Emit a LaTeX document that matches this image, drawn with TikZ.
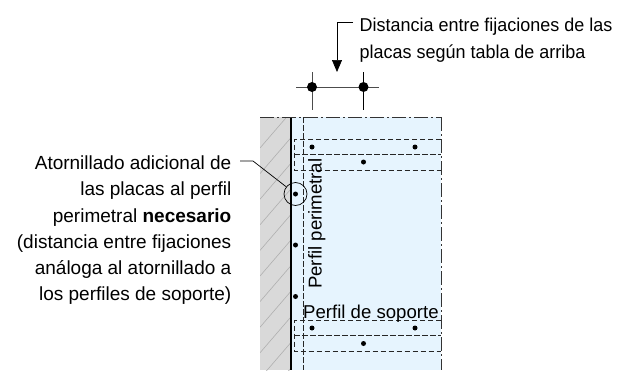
\documentclass[tikz,border=0pt]{standalone}
\usepackage{fontspec}
\setmainfont{Liberation Sans}
\usetikzlibrary{arrows.meta}
\definecolor{wallgray}{RGB}{217,217,217}
\definecolor{panelblue}{RGB}{230,244,254}
\definecolor{hatchgray}{RGB}{175,175,175}
\tikzset{
  txt/.style={font=\fontsize{18.6}{22}\selectfont,inner sep=0pt,text=black},
  lefttxt/.style={font=\fontsize{19}{22}\selectfont,inner sep=0pt,text=black},
  toptxt/.style={txt,xscale=0.966},
  band/.style={draw=black!85,line width=1pt,dash pattern=on 5.5pt off 2.5pt},
  chain/.style={draw=black!80,line width=1pt,dash pattern=on 14pt off 3pt on 2pt off 3pt},
  fix/.style={circle,fill=black,inner sep=0pt,minimum size=5pt},
  bigfix/.style={circle,fill=black,inner sep=0pt,minimum size=10pt},
  dimline/.style={draw=black!70,line width=1pt},
  leader/.style={draw=black,line width=0.7pt}
}
\begin{document}
\begin{tikzpicture}[x=1pt,y=-1pt]
\useasboundingbox (0,0) rectangle (627,370);
\fill[white] (0,0) rectangle (627,370);
\fill[wallgray] (260,117) rectangle (291,370);
\fill[panelblue] (291,117) rectangle (441,370);
\begin{scope}
\clip (260,117) rectangle (291,370);
\foreach \k in {0,...,10} {
  \draw[hatchgray,line width=0.6pt] (260,148+\k*25.6) -- (291,112+\k*25.6);
}
\end{scope}
\draw[black,line width=1.7pt] (291,117) -- (291,370);
\draw[chain] (260,117) -- (441,117);
\draw[chain] (441,117) -- (441,370);
\draw[band] (303,117) -- (303,370);
\draw[band] (441,139.5) -- (294,139.5) -- (294,170) -- (441,170);
\draw[band] (294,154.5) -- (441,154.5);
\draw[band] (441,320.5) -- (294,320.5) -- (294,351) -- (441,351);
\draw[band] (294,335.5) -- (441,335.5);
\node[fix] (s1) at (312,147) {};
\node[fix] (s2) at (415,147) {};
\node[fix] (s3) at (363.5,162) {};
\node[fix] (s4) at (312,328) {};
\node[fix] (s5) at (415,328) {};
\node[fix] (s6) at (363.5,343.5) {};
\node[fix] (p1) at (295.5,194) {};
\node[fix] (p2) at (295.5,245) {};
\node[fix] (p3) at (295.5,296.5) {};
\node[circle,draw=black,line width=0.7pt,minimum size=23pt,inner sep=0pt] (ring) at (295.5,194) {};
\coordinate (dl) at (296,87);
\coordinate (dr) at (379,87);
\coordinate (v1t) at (312,72);
\coordinate (v1b) at (312,110);
\coordinate (v2t) at (363.5,72);
\coordinate (v2b) at (363.5,110);
\draw[dimline] (dl) -- (dr);
\draw[dimline] (v1t) -- (v1b);
\draw[black,line width=0.8pt] (v2t) -- (v2b);
\node[bigfix] (d1) at (312,87) {};
\node[bigfix] (d2) at (363.5,87) {};
\node[toptxt,anchor=base west] (t1) at (359.5,31) {Distancia entre fijaciones de las};
\node[toptxt,anchor=base west] (t2) at (359.5,58) {placas según tabla de arriba};
\coordinate (ah) at (337,72);
\draw[black,line width=0.7pt,-{Triangle[length=12pt,width=10pt]}] (353,22) -- (337,22) -- (ah);
\node[lefttxt,anchor=base east] (l1) at (231.5,169) {Atornillado adicional de};
\node[lefttxt,anchor=base east] (l2) at (231.5,195) {las placas al perfil};
\node[lefttxt,anchor=base east] (l3) at (231.5,222) {perimetral \textbf{necesario}};
\node[lefttxt,anchor=base east] (l4) at (231.5,248) {(distancia entre fijaciones};
\node[lefttxt,anchor=base east] (l5) at (231.5,274) {análoga al atornillado a};
\node[lefttxt,anchor=base east] (l6) at (231.5,300) {los perfiles de soporte)};
\coordinate (lead) at (240,161);
\draw[leader] (lead) -- (253,161) -- (ring);
\node[txt,rotate=90,anchor=base west] (pp) at (321.5,289) {Perfil perimetral};
\node[txt,anchor=base west] (ps) at (303,318) {Perfil de soporte};
\end{tikzpicture}
\end{document}
